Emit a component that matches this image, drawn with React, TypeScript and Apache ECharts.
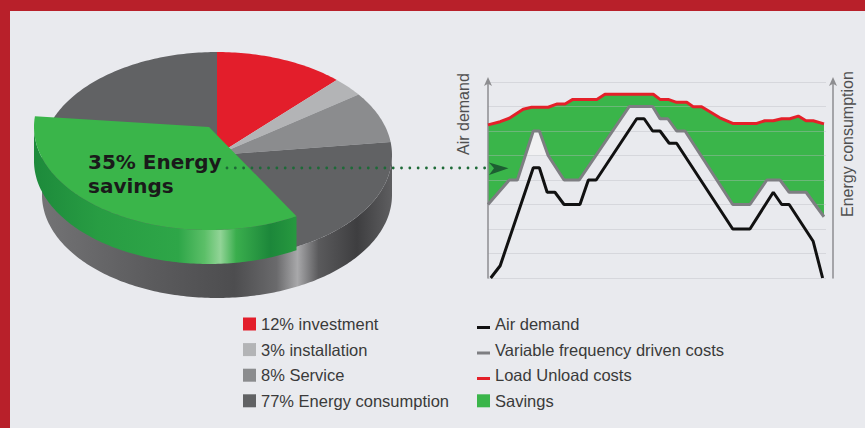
import React, { useEffect, useRef } from "react";
import * as echarts from "echarts";

// ---------- data ----------
const PIE_NAMES = ["investment", "installation", "Service", "Energy consumption"];
const PIE_VALUES = [12, 3, 8, 77];
const PIE_COLORS = ["#e31e2b", "#b3b4b6", "#8b8c8e", "#616264"];
const SAVINGS_PCT = 35;

// x: time (0..100), y: level in grid steps (0..8)
const AIR_DEMAND: number[][] = [
  [0.8, 0], [3.6, 0.5], [13.4, 4.5], [15.2, 4.5], [17.5, 3.5], [19.8, 3.5], [22.5, 3], [27.2, 3],
  [29.7, 4], [32, 4], [44, 6.5], [46.2, 6.5], [48.7, 6], [50.9, 6], [53.6, 5.5], [55.8, 5.5],
  [72.4, 2], [77.5, 2], [84.4, 3.5], [86.9, 3], [89.1, 3], [96.2, 1.5], [99, 0],
];
const VFD_COSTS: number[][] = [
  [0, 3], [6.3, 4], [8.7, 4], [13.4, 6], [15.2, 6], [17.8, 5], [22.5, 4], [27, 4], [41.8, 7],
  [48.7, 7], [50.9, 6.5], [53.2, 6.5], [55.8, 6], [58.3, 6], [72.4, 3], [77.5, 3], [82.5, 4],
  [86.4, 4], [89.1, 3.5], [94.1, 3.5], [99.4, 2.5],
];
const LOAD_UNLOAD_COSTS: number[][] = [
  [0, 6.25], [3.6, 6.38], [6.3, 6.52], [10.4, 6.89], [12.9, 6.97], [17.8, 6.97], [20.3, 7.1],
  [22.8, 7.1], [25.1, 7.29], [32.2, 7.29], [34.6, 7.5], [48.9, 7.5], [50.9, 7.29], [53.3, 7.29],
  [55.8, 7.17], [58.8, 7.17], [60.7, 6.99], [63.2, 6.99], [68.6, 6.54], [72.4, 6.31], [79.5, 6.31],
  [81.9, 6.42], [84.4, 6.42], [86.9, 6.5], [89.3, 6.5], [91.8, 6.61], [94.1, 6.42], [96.2, 6.42],
  [99.4, 6.29],
];
const PEAK_GAP: number[][] = [[11.0, 5], [13.4, 6], [15.2, 6], [17.8, 5]];

// ---------- layout ----------
const START_ANGLE = -90;
const CX = 217, CY = 155, RX = 175, RY = 103, DEPTH = 40;
const SAV_DX = -8, SAV_DY = -28, SAV_DEPTH = 34, SAV_START = 60;
const GREEN = "#3ab54a";
const deg = Math.PI / 180;

function rim(a: number, dx = 0, dy = 0) {
  return [CX + dx + RX * Math.cos(a * deg), CY + dy + RY * Math.sin(a * deg)];
}
function arcPts(a0: number, a1: number, dx = 0, dy = 0) {
  const n = Math.max(2, Math.ceil(Math.abs(a1 - a0)));
  const pts: number[][] = [];
  for (let i = 0; i <= n; i++) pts.push(rim(a0 + ((a1 - a0) * i) / n, dx, dy));
  return pts;
}
const TOTAL = PIE_VALUES.reduce((a, b) => a + b, 0);

const LINE_ICON = "path://M0,0h0.01v0.01h-0.01z M0,12.99h0.01v0.01h-0.01z M0,8.4h13v3h-13z";

function buildOption(): any {
  const sliceSeries = PIE_NAMES.map((name, i) => ({
    type: "custom",
    name,
    coordinateSystem: "none",
    z: 3,
    silent: true,
    itemStyle: { color: PIE_COLORS[i] },
    data: [PIE_VALUES[i]],
    renderItem: (_p: any, api: any) => {
      const before = PIE_VALUES.slice(0, i).reduce((a, b) => a + b, 0);
      const a0 = START_ANGLE + (before / TOTAL) * 360;
      const a1 = a0 + (api.value(0) / TOTAL) * 360;
      return {
        type: "polygon",
        shape: { points: [[CX, CY], ...arcPts(a0, a1)] },
        style: { fill: PIE_COLORS[i] },
      };
    },
  }));

  return {
    animation: false,
    backgroundColor: "#e9eaee",
    grid: { left: 488, right: 39, top: 82, bottom: 150 },
    xAxis: { type: "value", min: 0, max: 100, show: false },
    yAxis: [
      {
        type: "value", min: 0, max: 8, interval: 1, position: "left", offset: 7,
        axisLine: {
          show: true, symbol: ["none", "arrow"], symbolSize: [6, 9], symbolOffset: [0, 5],
          lineStyle: { color: "#8d8d90", width: 1.5 },
        },
        axisTick: { show: false }, axisLabel: { show: false },
        splitLine: { show: true, lineStyle: { color: "rgba(185,187,192,0.4)", width: 1 } },
      },
      {
        type: "value", min: 0, max: 8, interval: 1, position: "right", offset: 7,
        axisLine: {
          show: true, symbol: ["none", "arrow"], symbolSize: [6, 9], symbolOffset: [0, 5],
          lineStyle: { color: "#8d8d90", width: 1.5 },
        },
        axisTick: { show: false }, axisLabel: { show: false }, splitLine: { show: false },
      },
    ],
    legend: [
      {
        orient: "vertical", left: 243, top: 315.5, padding: 0, itemWidth: 13, itemHeight: 13,
        itemGap: 8.6, icon: "rect", selectedMode: false, data: PIE_NAMES,
        formatter: (name: string) => `${PIE_VALUES[PIE_NAMES.indexOf(name)]}% ${name}`,
        textStyle: { fontSize: 16.5, color: "#3a3a3a", fontFamily: "Liberation Sans" },
      },
      {
        orient: "vertical", left: 477, top: 315.5, padding: 0, itemWidth: 13, itemHeight: 13,
        itemGap: 8.6, selectedMode: false,
        data: [
          { name: "Air demand", icon: LINE_ICON },
          { name: "Variable frequency driven costs", icon: LINE_ICON },
          { name: "Load Unload costs", icon: LINE_ICON },
          { name: "Savings", icon: "rect" },
        ],
        textStyle: { fontSize: 16.5, color: "#3a3a3a", fontFamily: "Liberation Sans" },
      },
    ],
    series: [
      {
        type: "custom", name: "pieSide", coordinateSystem: "none", z: 2, silent: true,
        data: [TOTAL],
        renderItem: () => ({
          type: "polygon",
          shape: { points: [...arcPts(0, 180), ...arcPts(180, 0, 0, DEPTH)] },
          style: {
            fill: new echarts.graphic.LinearGradient(0, 0, 1, 0, [
              { offset: 0, color: "#737375" },
              { offset: 0.3, color: "#5c5c5e" },
              { offset: 0.55, color: "#4d4d4f" },
              { offset: 0.67, color: "#6a6a6c" },
              { offset: 0.73, color: "#a8a8aa" },
              { offset: 0.79, color: "#5a5a5c" },
              { offset: 0.9, color: "#3e3e40" },
              { offset: 1, color: "#5e5e60" },
            ]),
          },
        }),
      },
      ...sliceSeries,
      {
        type: "custom", name: "Energy savings", coordinateSystem: "none", z: 4, silent: true,
        data: [SAVINGS_PCT],
        renderItem: (_p: any, api: any) => {
          const a0 = SAV_START;
          const a1 = a0 + (api.value(0) / 100) * 360;
          const sideEnd = Math.min(a1, 180);
          return {
            type: "group",
            children: [
              {
                type: "polygon",
                shape: {
                  points: [
                    ...arcPts(a0, sideEnd, SAV_DX, SAV_DY),
                    ...arcPts(sideEnd, a0, SAV_DX, SAV_DY + SAV_DEPTH),
                  ],
                },
                style: {
                  fill: new echarts.graphic.LinearGradient(0, 0, 1, 0, [
                    { offset: 0, color: "#1d8a3b" },
                    { offset: 0.25, color: "#289d43" },
                    { offset: 0.55, color: "#2ea648" },
                    { offset: 0.65, color: "#5cbf68" },
                    { offset: 0.71, color: "#92d497" },
                    { offset: 0.77, color: "#3aae4d" },
                    { offset: 0.9, color: "#1c873a" },
                    { offset: 1, color: "#27993f" },
                  ]),
                },
              },
              {
                type: "polygon",
                shape: { points: [[CX + SAV_DX, CY + SAV_DY], ...arcPts(a0, a1, SAV_DX, SAV_DY)] },
                style: { fill: GREEN },
              },
            ],
          };
        },
      },
      {
        type: "custom", name: "Savings", z: -1, silent: true,
        itemStyle: { color: GREEN },
        data: [[0, 0]],
        renderItem: (_p: any, api: any) => {
          const top = LOAD_UNLOAD_COSTS.map((p) => api.coord(p));
          const bottom = VFD_COSTS.slice().reverse().map((p) => api.coord(p));
          const gap = PEAK_GAP.map((p) => api.coord(p));
          return {
            type: "group",
            children: [
              { type: "polygon", shape: { points: [...top, ...bottom] }, style: { fill: GREEN } },
              { type: "polygon", shape: { points: gap }, style: { fill: "#f1f1f2" } },
            ],
          };
        },
      },
      {
        type: "line", name: "Load Unload costs", data: LOAD_UNLOAD_COSTS, symbol: "none", z: 5,
        clip: false, itemStyle: { color: "#e42029" }, lineStyle: { color: "#e42029", width: 3 },
      },
      {
        type: "line", name: "Variable frequency driven costs", data: VFD_COSTS, symbol: "none", z: 5,
        clip: false, itemStyle: { color: "#7e7e82" }, lineStyle: { color: "#7e7e82", width: 3 },
      },
      {
        type: "line", name: "Air demand", data: AIR_DEMAND, symbol: "none", z: 6,
        clip: false, itemStyle: { color: "#111111" }, lineStyle: { color: "#111111", width: 3 },
      },
    ],
    graphic: [
      { type: "rect", shape: { x: 0, y: 0, width: 865, height: 11 }, style: { fill: "#b8202a" } },
      { type: "rect", shape: { x: 0, y: 0, width: 10, height: 428 }, style: { fill: "#b8202a" } },
      {
        type: "text", x: 88, y: 150.5, z: 100,
        style: {
          text: "35% Energy\nsavings", fontSize: 20, lineHeight: 23.5, fontWeight: "bold",
          fontFamily: "DejaVu Sans", fill: "#1a1a1a", verticalAlign: "top",
        },
      },
      {
        type: "line", z: 100,
        shape: { x1: 227, y1: 168, x2: 487, y2: 168 },
        style: { stroke: "#1d6a37", lineWidth: 2.8, lineDash: [0.01, 8.3], lineCap: "round" },
      },
      {
        type: "polygon", z: 100,
        shape: { points: [[489, 162.5], [508.5, 168.3], [489, 175], [494, 168.3]] },
        style: { fill: "#1d5e32" },
      },
      {
        type: "text", x: 463, y: 155, rotation: Math.PI / 2, z: 100,
        style: { text: "Air demand", fontSize: 16, fontFamily: "Liberation Sans", fill: "#505050", align: "left", verticalAlign: "middle" },
      },
      {
        type: "text", x: 847, y: 217, rotation: Math.PI / 2, z: 100,
        style: { text: "Energy consumption", fontSize: 16, fontFamily: "Liberation Sans", fill: "#505050", align: "left", verticalAlign: "middle" },
      },
    ],
  };
}

export default function App() {
  const ref = useRef<HTMLDivElement>(null);
  useEffect(() => {
    const chart = echarts.init(ref.current!, null, { renderer: "svg" });
    chart.setOption(buildOption());
    return () => chart.dispose();
  }, []);
  return (
    <div
      ref={ref}
      style={{ position: "absolute", left: 0, top: 0, width: 865, height: 428 }}
    />
  );
}
